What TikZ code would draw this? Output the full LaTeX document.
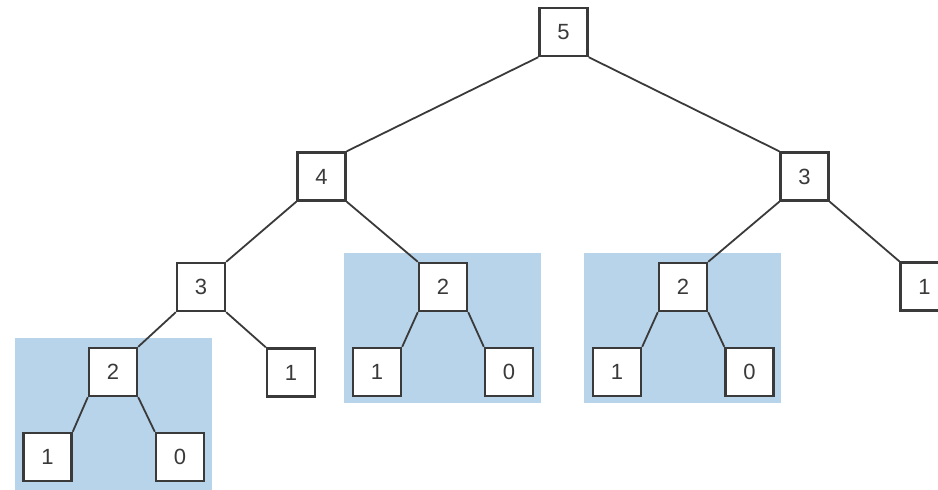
\documentclass[tikz,border=0pt]{standalone}
\usepackage{fontspec}
\setmainfont{Liberation Sans}
\definecolor{hl}{HTML}{B8D4EA}
\definecolor{ln}{HTML}{3A3A3A}
\begin{document}
\begin{tikzpicture}[x=1pt,y=-1pt,
  box/.style={draw=ln, line width=2.4pt, fill=white, rectangle, minimum width=48pt, minimum height=48pt, inner sep=0pt, text=ln, font=\fontsize{22}{22}\selectfont},
  edge/.style={draw=ln, line width=1.8pt},
  area/.style={fill=hl, draw=none}]
\useasboundingbox (0,0) rectangle (938,490);
\clip (0,0) rectangle (938,490);
\fill[area] (15,338) rectangle (212,492);
\fill[area] (344,253) rectangle (541,403);
\fill[area] (584,253) rectangle (781,403);
\node[box] (n5) at (563.5,32) {5};
\node[box] (n4) at (321.5,176.5) {4};
\node[box] (n3r) at (804.5,176.5) {3};
\node[box] (n3l) at (201,287) {3};
\node[box] (n1a) at (291,372.5) {1};
\node[box] (n2l) at (113,372) {2};
\node[box] (n1l) at (47.5,457) {1};
\node[box] (n0l) at (180,457) {0};
\node[box] (n2m) at (443,287) {2};
\node[box] (n1m) at (377,372) {1};
\node[box] (n0m) at (509,372) {0};
\node[box] (n2r) at (683,287) {2};
\node[box] (n1r) at (617,372) {1};
\node[box] (n0r) at (749.5,372) {0};
\node[box] (n1f) at (924.5,286.5) {1};
\draw[edge] (n5.south west) -- (n4.north east);
\draw[edge] (n5.south east) -- (n3r.north west);
\draw[edge] (n4.south west) -- (n3l.north east);
\draw[edge] (n4.south east) -- (n2m.north west);
\draw[edge] (n3r.south west) -- (n2r.north east);
\draw[edge] (n3r.south east) -- (n1f.north west);
\draw[edge] (n3l.south west) -- (n2l.north east);
\draw[edge] (n3l.south east) -- (n1a.north west);
\draw[edge] (n2l.south west) -- (n1l.north east);
\draw[edge] (n2l.south east) -- (n0l.north west);
\draw[edge] (n2m.south west) -- (n1m.north east);
\draw[edge] (n2m.south east) -- (n0m.north west);
\draw[edge] (n2r.south west) -- (n1r.north east);
\draw[edge] (n2r.south east) -- (n0r.north west);
\end{tikzpicture}
\end{document}
